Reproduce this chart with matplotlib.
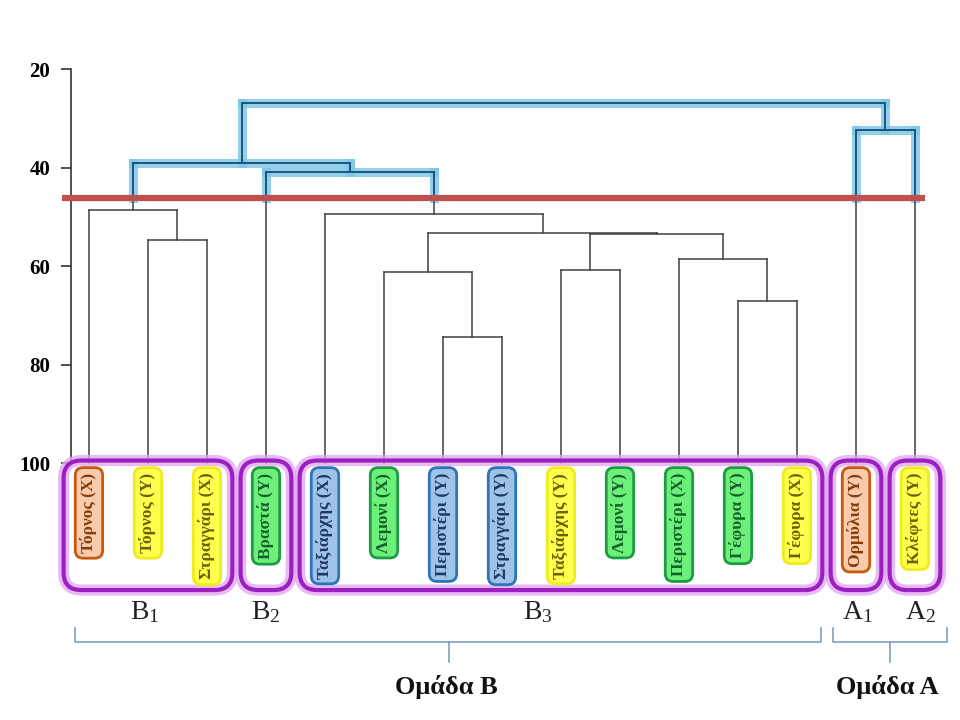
import numpy as np
import matplotlib
matplotlib.use("Agg")
import matplotlib.pyplot as plt
from matplotlib.patches import FancyBboxPatch

plt.rcParams['font.family'] = ['Liberation Serif', 'DejaVu Serif']

# leaves, left to right
leaf_labels = ['Τόρνος (Χ)', 'Τόρνος (Υ)', 'Στραγγάρι (Χ)', 'Βραστά (Υ)',
               'Ταξιάρχης (Χ)', 'Λεμονί (Χ)', 'Περιστέρι (Υ)', 'Στραγγάρι (Υ)',
               'Ταξιάρχης (Υ)', 'Λεμονί (Υ)', 'Περιστέρι (Χ)', 'Γέφυρα (Υ)',
               'Γέφυρα (Χ)', 'Ορμύλια (Υ)', 'Κλέφτες (Υ)']
leaf_kind = ['orange', 'yellow', 'yellow', 'green',
             'blue', 'green', 'blue', 'blue',
             'yellow', 'green', 'green', 'green',
             'yellow', 'orange', 'yellow']

# merges (child a, child b, level); new clusters numbered from 15
merges = [(1, 2, 54.7), (0, 15, 48.6),
          (6, 7, 74.4), (5, 17, 61.3),
          (8, 9, 60.9),
          (11, 12, 67.2), (10, 20, 58.5),
          (19, 21, 53.6), (18, 22, 53.2),
          (4, 23, 49.5), (3, 24, 41.0),
          (16, 25, 39.0),
          (13, 14, 32.4),
          (26, 27, 27.0)]
leaf_level = 100
cut_level = 46.2

# sub groups (first leaf, last leaf, name, label x)
groups = [(0, 2, 'B_1', 0.95), (3, 3, 'B_2', 3.0), (4, 12, 'B_3', 7.6),
          (13, 13, 'A_1', 13.03), (14, 14, 'A_2', 14.1)]
# main groups (left, right, centre, name)
brackets = [(-0.24, 12.41, 6.1, 'Ομάδα B'), (12.61, 14.54, 13.58, 'Ομάδα A')]

kind_style = {
    'orange': ('#f8cbad', '#c55a11', '#843c0c'),
    'yellow': ('#ffff4d', '#f0ea20', '#6b6000'),
    'green': ('#6cf07a', '#1f9a45', '#14602a'),
    'blue': ('#9dc3e6', '#2e75b6', '#1f3864'),
}

fig = plt.figure(figsize=(9.6, 7.2), dpi=100)
ax = fig.add_axes([0, 0, 1, 1])
ax.set_xlim(-1.508, 14.763)
ax.set_ylim(152.18, 5.99)

# dendrogram
n = len(leaf_labels)
pos = {i: (float(i), leaf_level) for i in range(n)}
black, blue = [], []
for k, (a, b, h) in enumerate(merges):
    xa, ha = pos[a]
    xb, hb = pos[b]
    for x, hc in [(xa, ha), (xb, hb)]:
        if h >= cut_level:
            black.append(([x, x], [hc, h]))
        elif hc <= cut_level:
            blue.append(([x, x], [hc, h]))
        else:
            black.append(([x, x], [hc, cut_level]))
            blue.append(([x, x], [cut_level, h]))
    if h < cut_level:
        blue.append(([xa, xb], [h, h]))
    else:
        black.append(([xa, xb], [h, h]))
    pos[n + k] = ((xa + xb) / 2, h)

for xs, ys in black:
    ax.plot(xs, ys, color='#404040', lw=1.1, zorder=3)
for xs, ys in blue:
    ax.plot(xs, ys, color='#80c8e6', lw=6.5, alpha=0.85, zorder=2,
            solid_capstyle='projecting')
for xs, ys in blue:
    ax.plot(xs, ys, color='#1f5380', lw=1.4, zorder=3)

ax.plot([-0.46, 14.17], [cut_level, cut_level], color='#c0504d', lw=4.5,
        zorder=4, solid_capstyle='butt')

# leaf labels
for i, (lab, kind) in enumerate(zip(leaf_labels, leaf_kind)):
    fc, ec, tc = kind_style[kind]
    ax.text(i, 102.0, lab, rotation=90, ha='center', va='top', fontsize=12.5,
            fontweight='bold', color=tc, zorder=6,
            bbox=dict(boxstyle='round,pad=0.3,rounding_size=0.45', fc=fc,
                      ec=ec, lw=2))

# purple group frames
aspect = 59 / 4.925
for first, last, name, lx in groups:
    for lw, col, al in [(8, '#e2a9f2', 0.8), (3, '#9c1fc2', 1.0)]:
        ax.add_patch(FancyBboxPatch((first - 0.43, 99.5), last - first + 0.86, 26.3,
                                    boxstyle='round,pad=0,rounding_size=0.3',
                                    mutation_aspect=aspect, fc='none', ec=col,
                                    lw=lw, alpha=al, zorder=5))
    ax.text(lx, 130.3, r'$\mathregular{' + name + '}$', ha='center', va='center',
            fontsize=20, color='#222222')

# brackets
for left, right, mid, name in brackets:
    ax.plot([left, left, right, right], [133.6, 136.3, 136.3, 133.6],
            color='#7f9fbf', lw=1.2)
    ax.plot([mid, mid], [136.3, 140.4], color='#7f9fbf', lw=1.2)
    ax.text(mid - 0.05, 145.5, name, ha='center', va='center', fontsize=19,
            fontweight='bold', color='#111111')

# y axis
for s in ['top', 'right', 'bottom']:
    ax.spines[s].set_visible(False)
ax.spines['left'].set_position(('data', -0.305))
ax.spines['left'].set_bounds(20, 100)
ax.spines['left'].set_color('#333333')
ax.spines['left'].set_linewidth(1.2)
ax.set_yticks([20, 40, 60, 80, 100])
ax.set_xticks([])
ax.tick_params(axis='y', length=7, width=1.2, pad=8, labelsize=15,
               color='#333333')
for t in ax.get_yticklabels():
    t.set_fontweight('bold')

fig.savefig('out.png', dpi=100)
